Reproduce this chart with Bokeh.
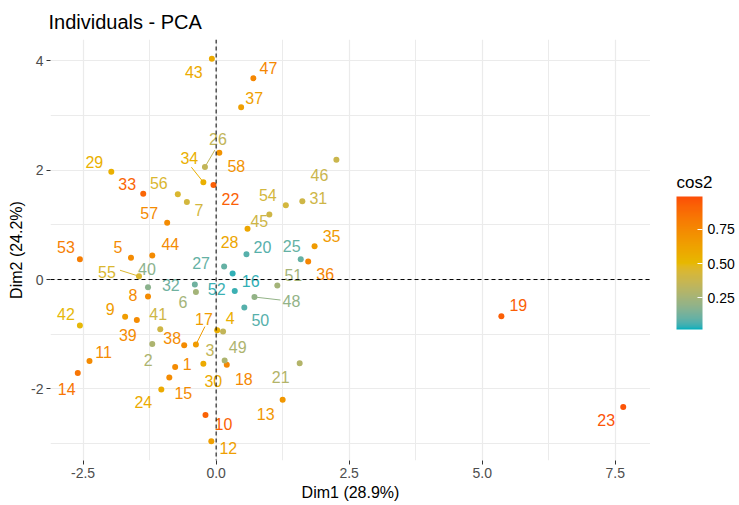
import numpy as np
from bokeh.plotting import figure
from bokeh.layouts import row
from bokeh.models import (ColumnDataSource, LinearColorMapper, ColorBar, FixedTicker,
                          Span, PrintfTickFormatter, Range1d, Label)
from bokeh.transform import transform
from bokeh.core.properties import value
from bokeh.embed import file_html
from bokeh.resources import INLINE

# ---------------- data ----------------
ids = [str(i) for i in range(1, 59)]
dim1 = [-0.77, -1.20, 0.13, 0.02, -1.60, -0.38, -0.55, -1.28, -1.71, -0.20,
        -2.38, -0.09, 1.25, -2.60, -0.88, 0.31, -0.38, 0.20, 5.36, 0.57,
        1.57, -0.05, 7.65, -1.03, 1.59, -0.21, 0.15, 0.59, -1.97, -0.24,
        1.62, -0.40, -1.37, -0.24, 1.85, 1.73, 0.47, -0.60, -1.49, -1.28,
        -1.05, -2.56, -0.08, -1.20, 1.00, 2.26, 0.70, 0.72, 0.16, 0.53,
        1.15, 0.35, -2.56, 1.31, -1.45, -0.72, -0.92, 0.06]
dim2 = [-1.60, -1.18, -0.95, -0.93, 0.40, -0.23, 1.42, -0.31, -0.68, -2.48,
        -1.49, -2.96, -2.20, -1.71, -1.79, 0.11, -1.19, -1.56, -0.67, 0.46,
        -1.53, 1.73, -2.33, -2.01, 0.37, 2.06, 0.24, 0.93, 1.97, -1.54,
        1.43, -0.09, 1.57, 1.78, 0.61, 0.33, 3.15, -1.20, -0.74, -0.14,
        -0.91, -0.84, 4.04, 0.44, 1.19, 2.19, 3.68, -0.32, -1.48, -0.51,
        -0.11, -0.21, 0.37, 1.36, 0.06, 1.56, 1.04, 2.32]
cos2 = [0.74, 0.28, 0.35, 0.56, 0.74, 0.25, 0.42, 0.74, 0.65, 0.92,
        0.74, 0.64, 0.68, 0.84, 0.74, 0.04, 0.66, 0.76, 0.93, 0.08,
        0.30, 0.93, 0.97, 0.58, 0.10, 0.35, 0.10, 0.60, 0.55, 0.58,
        0.40, 0.12, 0.90, 0.55, 0.66, 0.77, 0.64, 0.74, 0.74, 0.18,
        0.40, 0.50, 0.58, 0.74, 0.40, 0.38, 0.76, 0.20, 0.28, 0.08,
        0.25, 0.05, 0.80, 0.42, 0.45, 0.45, 0.74, 0.70]
cos2_limits = [0.02, 0.99]
x_ticks = [-2.5, 0.0, 2.5, 5.0, 7.5]
x_minor = [-1.25, 1.25, 3.75, 6.25]
y_ticks = [-2, 0, 2, 4]
y_minor = [-3, -1, 1, 3]
cbar_ticks = [0.25, 0.50, 0.75]
gradient_cols = ["#00AFBB", "#E7B800", "#FC4E07"]
title_text = "Individuals - PCA"
xlab = "Dim1 (28.9%)"
ylab = "Dim2 (24.2%)"
legend_title = "cos2"

# ---------------- label placement (screen px, like ggrepel) ----------------
label_dx = [12, -4, -13, 13, -13, -13, 12, -15, -15, 18,
            14, 17, -17, -11, 14, 18, 8, 17, 17, 16,
            -19, 17, -17, -18, -9, 13, -23, -18, -17, 10,
            16, -24, -16, -14, 17, 17, 13, -12, -9, -1,
            -2, -14, -18, 18, -10, -17, 15, 37, 13, 16,
            16, -18, -14, -18, -32, -19, -18, 17]
label_dy = [-3, 16, 19, -12, -11, 10, 8, -1, -8, 9,
            -9, 7, 14, 16, 16, 7, -26, 14, -11, -7,
            14, 14, 13, 13, -13, -28, -3, 13, -10, 17,
            -3, 1, -10, -24, -10, 13, -9, -7, 15, -18,
            -15, -11, 13, -11, 7, 15, -10, 4, -13, 13,
            -11, -2, -12, -10, -4, -11, -10, 13]
seg_ids = ["26", "34", "17", "55", "48"]
seg_dx = [10, -12, 9, -19, 26]
seg_dy = [-17, -15, -18, -6, 3]

# ---------------- colour gradient (Lab interpolation like ggplot) ----------------
_M = np.array([[0.4124564, 0.3575761, 0.1804375],
               [0.2126729, 0.7151522, 0.0721750],
               [0.0193339, 0.1191920, 0.9503041]])
_WP = np.array([0.95047, 1.0, 1.08883])


def _to_lab(h):
    rgb = np.array([int(h[i:i + 2], 16) for i in (1, 3, 5)]) / 255.0
    lin = np.where(rgb <= 0.04045, rgb / 12.92, ((rgb + 0.055) / 1.055) ** 2.4)
    t = (_M @ lin) / _WP
    f = np.where(t > (6 / 29) ** 3, np.cbrt(t), t / (3 * (6 / 29) ** 2) + 4 / 29)
    return np.array([116 * f[1] - 16, 500 * (f[0] - f[1]), 200 * (f[1] - f[2])])


def _from_lab(lab):
    fy = (lab[0] + 16) / 116
    f = np.array([fy + lab[1] / 500, fy, fy - lab[2] / 200])
    t = np.where(f > 6 / 29, f ** 3, 3 * (6 / 29) ** 2 * (f - 4 / 29))
    lin = np.clip(np.linalg.inv(_M) @ (t * _WP), 0, 1)
    rgb = np.where(lin <= 0.0031308, 12.92 * lin, 1.055 * lin ** (1 / 2.4) - 0.055)
    return "#%02x%02x%02x" % tuple(int(round(c * 255)) for c in np.clip(rgb, 0, 1))


labs = [_to_lab(c) for c in gradient_cols]
palette = []
n = 256
for k in range(n):
    t = k / (n - 1) * (len(labs) - 1)
    i = min(int(t), len(labs) - 2)
    f = t - i
    palette.append(_from_lab(labs[i] * (1 - f) + labs[i + 1] * f))

mapper = LinearColorMapper(palette=palette, low=cos2_limits[0], high=cos2_limits[1])

# ---------------- main figure ----------------
xr = (min(dim1), max(dim1))
yr = (min(dim2), max(dim2))
xpad = 0.05 * (xr[1] - xr[0])
ypad = 0.05 * (yr[1] - yr[0])
FW, FH = 600, 421
BL, BT, BB = 50, 39, 45
LEG_W = 89
x0, x1 = xr[0] - xpad, xr[1] + xpad
y0, y1 = yr[0] - ypad, yr[1] + ypad
sx = FW / (x1 - x0)
sy = FH / (y1 - y0)

FONT = "Liberation Sans"
p = figure(frame_width=FW, frame_height=FH, output_backend="svg", toolbar_location=None,
           x_range=Range1d(x0, x1), y_range=Range1d(y0, y1),
           min_border_left=BL, min_border_right=0, min_border_top=BT, min_border_bottom=BB,
           title=title_text)
p.outline_line_color = None
p.background_fill_color = "white"
p.border_fill_color = "white"

p.title.text_font = FONT
p.title.text_font_size = "20px"
p.title.text_font_style = "normal"
p.title.text_color = "black"
p.title.standoff = 14
p.title.offset = -2

for ax, lab in ((p.xaxis[0], xlab), (p.yaxis[0], ylab)):
    ax.axis_label = lab
    ax.axis_label_text_font = FONT
    ax.axis_label_text_font_size = "16px"
    ax.axis_label_text_font_style = "normal"
    ax.axis_label_text_color = "black"
    ax.axis_label_standoff = 3
    ax.major_label_text_font = FONT
    ax.major_label_text_font_size = "14px"
    ax.major_label_text_color = "#4D4D4D"
    ax.major_label_standoff = 3
    ax.axis_line_color = None
    ax.major_tick_line_color = "#333333"
    ax.major_tick_out = 4
    ax.major_tick_in = 0
    ax.minor_tick_line_color = None

p.xaxis[0].ticker = FixedTicker(ticks=x_ticks, minor_ticks=x_minor)
p.xaxis[0].formatter = PrintfTickFormatter(format="%.1f")
p.yaxis[0].ticker = FixedTicker(ticks=y_ticks, minor_ticks=y_minor)
p.yaxis[0].formatter = PrintfTickFormatter(format="%d")

for g in (p.xgrid[0], p.ygrid[0]):
    g.grid_line_color = "#EBEBEB"
    g.grid_line_width = 1.2
    g.minor_grid_line_color = "#EBEBEB"
    g.minor_grid_line_width = 1

p.add_layout(Span(location=0, dimension="height", line_color="black",
                  line_dash="4 3", line_width=1))
p.add_layout(Span(location=0, dimension="width", line_color="black",
                  line_dash="4 3", line_width=1))

src = ColumnDataSource(dict(x=dim1, y=dim2, cos2=cos2, id=ids, dx=label_dx, dy=label_dy))

# repel segments
seg = dict(x0=[], y0=[], x1=[], y1=[], cos2=[])
for sid, ddx, ddy in zip(seg_ids, seg_dx, seg_dy):
    j = ids.index(sid)
    seg["x0"].append(dim1[j])
    seg["y0"].append(dim2[j])
    seg["x1"].append(dim1[j] + ddx / sx)
    seg["y1"].append(dim2[j] - ddy / sy)
    seg["cos2"].append(cos2[j])
p.segment(x0="x0", y0="y0", x1="x1", y1="y1", source=ColumnDataSource(seg),
          line_color=transform("cos2", mapper), line_width=1)

p.scatter(x="x", y="y", source=src, size=6, line_color=None,
          fill_color=transform("cos2", mapper))
p.text(x="x", y="y", text="id", source=src, x_offset="dx", y_offset="dy",
       text_color=transform("cos2", mapper), text_font=value(FONT),
       text_font_size="16px", text_align="center", text_baseline="middle")

# ---------------- legend panel (narrow figure whose frame lines up with the main frame) ----------------
leg = figure(frame_width=LEG_W, frame_height=FH, output_backend="svg", toolbar_location=None,
             x_range=Range1d(0, LEG_W), y_range=Range1d(0, FH),
             min_border_left=0, min_border_right=0, min_border_top=BT, min_border_bottom=BB,
             x_axis_type=None, y_axis_type=None)
leg.outline_line_color = None
leg.grid.visible = False
leg.background_fill_color = "white"
leg.border_fill_color = "white"

CB_X, CB_BOTTOM, CB_W, CB_H = 26, 131, 26, 133
cb = ColorBar(color_mapper=mapper, ticker=FixedTicker(ticks=cbar_ticks),
              formatter=PrintfTickFormatter(format="%.2f"),
              width=CB_W, height=CB_H, location=(CB_X, CB_BOTTOM), orientation="vertical",
              major_label_text_font=FONT, major_label_text_font_size="14px",
              major_label_text_color="black", label_standoff=5,
              major_tick_line_color="white", major_tick_in=5, major_tick_out=0,
              bar_line_color=None, padding=0, margin=0,
              background_fill_color=None, border_line_color=None)
leg.add_layout(cb, "center")
leg.add_layout(Label(x=CB_X, y=CB_BOTTOM + CB_H + 14, text=legend_title,
                     text_font=FONT, text_font_size="17px", text_color="black",
                     text_align="left", text_baseline="middle"))

layout = row(p, leg, spacing=0)
open("out.html", "w").write(file_html(layout, INLINE))
